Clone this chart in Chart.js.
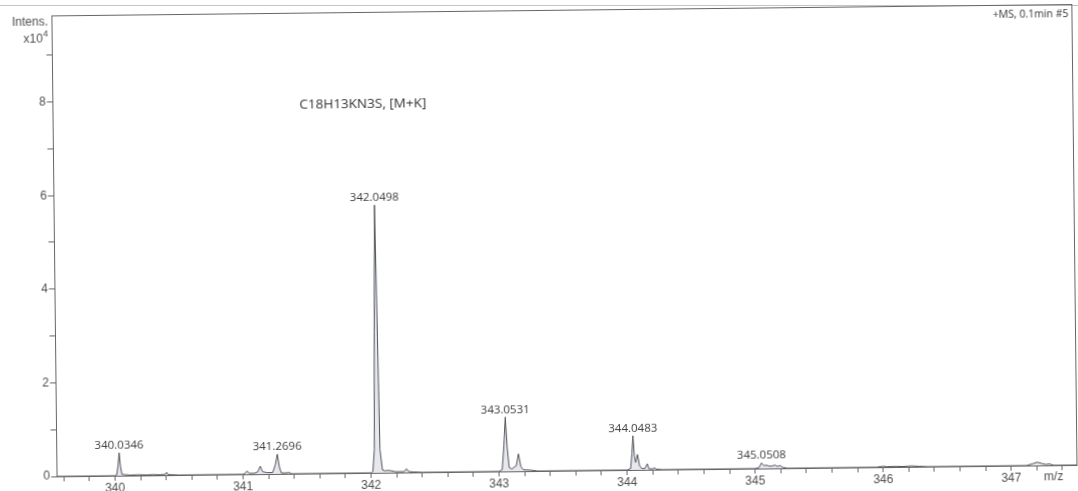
<!DOCTYPE html>
<html>
<head>
<meta charset="utf-8">
<title>C18H13KN3S, [M+K] mass spectrum</title>
<script src="https://cdn.jsdelivr.net/npm/chart.js@4.4.1/dist/chart.umd.min.js"></script>
<style>
  html, body { margin: 0; padding: 0; background: #ffffff; overflow: hidden; }
  #wrap { position: relative; width: 1078px; height: 491px; }
  #pageRule { position: absolute; left: 0; top: 5px; width: 1078px; height: 0; border-top: 1px solid #c4c4c4; }
  #spec { position: absolute; left: 0; top: 0; transform: rotate(-0.64deg); transform-origin: 539px 245.5px; }
</style>
</head>
<body>
<div id="wrap">
  <div id="pageRule"></div>
  <canvas id="spec" width="1078" height="491"></canvas>
</div>
<script>
// Profile spectrum: m/z and intensity (x10^4)
const mzValues = [
  339.54, 340.00, 340.014, 340.025, 340.0346, 340.044, 340.055, 340.08, 340.12, 340.18,
  340.25, 340.30, 340.35, 340.395, 340.405, 340.415, 340.50,
  341.00, 341.016, 341.032, 341.048, 341.09, 341.116, 341.135, 341.154, 341.19,
  341.232, 341.254, 341.2696, 341.285, 341.30, 341.34, 341.36, 341.38,
  342.00, 342.015, 342.028, 342.037, 342.0498, 342.062, 342.072, 342.09, 342.11, 342.13,
  342.16, 342.19, 342.26, 342.277, 342.294, 342.33, 342.40,
  343.00, 343.025, 343.04, 343.0531, 343.066, 343.08, 343.10, 343.135, 343.153, 343.171,
  343.19, 343.25, 343.30,
  344.00, 344.028, 344.039, 344.0483, 344.058, 344.068, 344.083, 344.098, 344.115, 344.14,
  344.158, 344.172, 344.20, 344.215, 344.23, 344.28,
  345.00, 345.03, 345.0508, 345.07, 345.09, 345.11, 345.13, 345.155, 345.175, 345.195,
  345.215, 345.25,
  345.95, 346.00, 346.03, 346.10, 346.15, 346.22, 346.28, 346.35,
  347.12, 347.17, 347.205, 347.24, 347.27, 347.30, 347.33, 347.51
];
const intensityValues = [
  0, 0, 0.02, 0.22, 0.49, 0.20, 0.03, 0.02, 0.01, 0.015,
  0.01, 0.015, 0.01, 0.02, 0.06, 0.01, 0,
  0, 0.02, 0.07, 0.02, 0.02, 0.05, 0.17, 0.05, 0.03,
  0.03, 0.20, 0.42, 0.15, 0.02, 0.02, 0.03, 0,
  0, 0.03, 0.50, 3.00, 5.72, 2.90, 0.50, 0.06, 0.04, 0.05,
  0.04, 0.02, 0.02, 0.08, 0.02, 0.01, 0,
  0, 0.04, 0.55, 1.16, 0.50, 0.08, 0.05, 0.12, 0.37, 0.10,
  0.03, 0.02, 0,
  0, 0.03, 0.35, 0.73, 0.30, 0.16, 0.33, 0.09, 0.03, 0.03,
  0.13, 0.02, 0.02, 0.04, 0.01, 0,
  0, 0.02, 0.12, 0.06, 0.07, 0.05, 0.05, 0.07, 0.04, 0.06,
  0.02, 0,
  0, 0.02, 0.01, 0.015, 0.01, 0.02, 0.01, 0,
  0, 0.04, 0.07, 0.04, 0.02, 0.03, 0, 0
];

// Annotated peak centroids
const peakLabelMz = [340.0346, 341.2696, 342.0498, 343.0531, 344.0483, 345.0508];

// Axis ticks
const xLabeledTicks = [340, 341, 342, 343, 344, 345, 346, 347];
const xMinorStep = 0.2;
const yLabeledTicks = [0, 2, 4, 6, 8];
const yMinorStep = 1;

const xMin = 339.54, xMax = 347.51;
const yMin = 0, yMax = 9.85;

const compoundLabel = 'C18H13KN3S, [M+K]';
const scanLabel = '+MS, 0.1min #5';

const axisColor = '#666666';
const textColor = '#4f4f4f';
const axisFont = '"Liberation Sans", Arial, sans-serif';
const noteFont = '"Open Sans", "Noto Sans", sans-serif';

const points = mzValues.map((m, i) => ({ x: m, y: intensityValues[i] }));

function stepTicks(min, max, step) {
  const out = [];
  const n0 = Math.ceil(min / step - 1e-9), n1 = Math.floor(max / step + 1e-9);
  for (let n = n0; n <= n1; n++) out.push({ value: +(n * step).toFixed(6) });
  return out;
}
const isLabeled = (list, v) => list.some(t => Math.abs(t - v) < 1e-6);

// Frame, annotations and axis captions
const annotations = {
  id: 'annotations',
  afterDraw(chart) {
    const { ctx, chartArea: a, scales: { x, y } } = chart;
    ctx.save();
    ctx.strokeStyle = axisColor;
    ctx.lineWidth = 1;
    ctx.strokeRect(Math.round(a.left) + 0.5, Math.round(a.top) + 0.5,
      Math.round(a.right - a.left) - 1, Math.round(a.bottom - a.top));

    // peak m/z labels
    ctx.fillStyle = '#3c3c3c';
    ctx.font = '11.5px ' + noteFont;
    ctx.textAlign = 'center';
    ctx.textBaseline = 'alphabetic';
    peakLabelMz.forEach(m => {
      const i = mzValues.indexOf(m);
      const px = x.getPixelForValue(m);
      const py = y.getPixelForValue(intensityValues[i]);
      ctx.fillText(m.toFixed(4), px, py - 4);
    });

    // compound label
    ctx.font = '13.5px ' + noteFont;
    ctx.textAlign = 'left';
    ctx.textBaseline = 'middle';
    ctx.fillStyle = '#333';
    ctx.fillText(compoundLabel, 301, 102);

    // scan label
    ctx.font = '10.5px ' + noteFont;
    ctx.textAlign = 'right';
    ctx.fillText(scanLabel, a.right - 3, a.top + 10);

    // axis captions
    ctx.fillStyle = textColor;
    ctx.font = '12px ' + axisFont;
    ctx.textAlign = 'right';
    ctx.fillText('Intens.', 50.5, 16.5);
    ctx.font = '9.5px ' + axisFont;
    ctx.fillText('4', 50.5, 28);
    const supW = ctx.measureText('4').width;
    ctx.font = '12px ' + axisFont;
    ctx.fillText('x10', 50.5 - supW, 33.5);
    ctx.textAlign = 'center';
    ctx.fillText('m/z', 1051, 482.5);
    ctx.restore();
  }
};

new Chart(document.getElementById('spec'), {
  type: 'line',
  data: {
    datasets: [{
      data: points,
      borderColor: '#50555a',
      borderWidth: 1,
      backgroundColor: 'rgba(185, 185, 205, 0.35)',
      fill: 'origin',
      pointRadius: 0,
      tension: 0
    }]
  },
  options: {
    responsive: false,
    animation: false,
    devicePixelRatio: 1,
    layout: { padding: { top: 10, right: 4, left: 0, bottom: 0 } },
    plugins: { legend: { display: false }, tooltip: { enabled: false }, title: { display: false } },
    scales: {
      x: {
        type: 'linear',
        min: xMin,
        max: xMax,
        afterBuildTicks: s => { s.ticks = stepTicks(xMin, xMax, xMinorStep); },
        afterFit: s => { s.height = 20; },
        border: { display: false },
        grid: { drawOnChartArea: false, drawTicks: true, tickLength: 5, color: axisColor, lineWidth: 1 },
        ticks: {
          autoSkip: false,
          maxRotation: 0,
          padding: 0,
          color: textColor,
          font: { family: axisFont, size: 12 },
          callback: v => isLabeled(xLabeledTicks, v) ? String(Math.round(v)) : ''
        }
      },
      y: {
        min: yMin,
        max: yMax,
        afterBuildTicks: s => { s.ticks = stepTicks(yMin, yMax, yMinorStep); },
        afterFit: s => { s.width = 53.5; },
        border: { display: false },
        grid: { drawOnChartArea: false, drawTicks: true, tickLength: 5, color: axisColor, lineWidth: 1 },
        ticks: {
          autoSkip: false,
          padding: 1,
          color: textColor,
          font: { family: axisFont, size: 12 },
          callback: v => isLabeled(yLabeledTicks, v) ? String(Math.round(v)) : ''
        }
      }
    }
  },
  plugins: [annotations]
});
</script>
</body>
</html>
